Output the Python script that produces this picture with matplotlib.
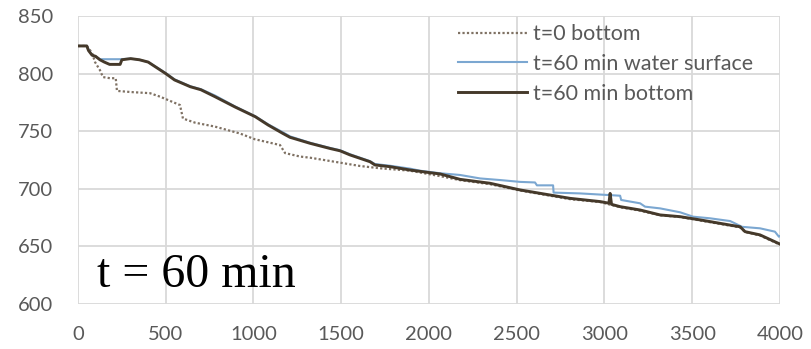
import matplotlib
matplotlib.use("Agg")
import matplotlib.pyplot as plt

# t=0 bottom
x_t0 = [0, 50, 80, 97, 125, 142, 182, 215, 222, 300, 410, 467, 581, 598, 667, 780, 923, 1008,
        1151, 1180, 1265, 1322, 1493, 1607, 1721, 1892, 2063, 2177, 2348, 2519, 2690, 2804,
        2975, 3089, 3203, 3317, 3431, 3545, 3659, 3773, 3801, 3886, 4000]
y_t0 = [824, 824, 818, 810, 803, 797, 796, 796, 785, 784, 783, 780, 772.7, 761, 757.4, 754, 748, 743,
        738, 731, 728, 727, 722.7, 719.8, 717.8, 715.7, 711, 707.5, 704, 698.5, 694, 691,
        688.5, 684, 681, 677, 675.5, 672.5, 669.5, 666.5, 662.5, 659.5, 651.5]

# t=60 min water surface
x_surf = [0, 50, 60, 80, 100, 125, 180, 240, 300, 350, 400, 500, 550, 640, 700, 780, 895, 1010,
          1083, 1168, 1208, 1322, 1436, 1493, 1550, 1664, 1692, 1778, 1892, 1949, 2063, 2177,
          2291, 2405, 2519, 2604, 2615, 2707, 2710, 2860, 2975, 3089, 3095, 3203, 3231, 3317,
          3431, 3505, 3601, 3716, 3784, 3886, 3971, 3994, 4000]
y_surf = [824, 824, 821, 816, 815, 812.5, 812.5, 812.5, 813, 812, 810, 800.5, 795, 789, 786.5, 781, 771.5, 763,
          756, 749, 745.5, 740, 735.5, 733.5, 730, 724, 721.5, 720, 717.5, 715.7, 713.5, 712,
          709, 707.6, 706, 705.5, 703, 703, 696.7, 696, 695, 694, 690.3, 687.4, 684.5, 683,
          679.6, 675.8, 674.4, 672, 667, 665.7, 662.8, 658.4, 659]

# t=60 min bottom
x_bot = [0, 50, 60, 80, 100, 125, 150, 180, 240, 250, 300, 350, 400, 500, 550, 640, 700, 780, 895,
         1010, 1083, 1168, 1208, 1322, 1436, 1493, 1550, 1664, 1692, 1778, 1892, 2005, 2063, 2177,
         2348, 2519, 2690, 2804, 2975, 3025, 3032, 3040, 3089, 3203, 3317, 3431, 3545, 3659,
         3773, 3801, 3886, 4000]
y_bot = [824, 824, 820, 816, 815, 812, 810, 808, 808, 812, 813, 812, 810, 800, 794.5, 788.6, 786, 780, 771,
         762.6, 755.4, 748, 744.7, 739.5, 735, 733, 729.4, 723.5, 720.7, 719.2, 716.3, 714, 712.9, 708.2,
         704.8, 699, 694.6, 691.7, 688.9, 687.5, 696, 686.5, 684.5, 681.6, 677.3, 675.8, 673, 670,
         667, 662.8, 660, 652]

labels = ["t=0 bottom", "t=60 min water surface", "t=60 min bottom"]
x_ticks = [0, 500, 1000, 1500, 2000, 2500, 3000, 3500, 4000]
y_ticks = [600, 650, 700, 750, 800, 850]

fig = plt.figure(figsize=(8.12, 3.49), dpi=100)
ax = fig.add_axes([78/812, 1 - 304/349, 702/812, 288/349])

ax.plot(x_t0, y_t0, color="#7f7163", lw=1.6, ls=(0, (1, 1)), label=labels[0], zorder=3)
ax.plot(x_surf, y_surf, color="#7ba7d1", lw=1.5, label=labels[1], zorder=4)
ax.plot(x_bot, y_bot, color="#45392a", lw=2.1, label=labels[2], zorder=5)

ax.set_xlim(0, 4000)
ax.set_ylim(600, 850)
ax.set_xticks(x_ticks)
ax.set_yticks(y_ticks)
ax.grid(True, color="#d9d9d9", lw=1.3)
ax.set_axisbelow(True)
for s in ax.spines.values():
    s.set_visible(False)
ax.tick_params(length=0, labelsize=14.5, colors="#595959", labelcolor="#595959")
ax.tick_params(axis="y", pad=18)
ax.tick_params(axis="x", pad=16)
for lab in ax.get_xticklabels() + ax.get_yticklabels():
    lab.set_fontfamily("Lato")

leg = ax.legend(loc="upper left", bbox_to_anchor=(0.541, 0.972), frameon=False,
                borderpad=0, borderaxespad=0, handlelength=3.2, handletextpad=0.28,
                labelspacing=0.46, prop={"family": "Lato", "size": 15.5})
for t in leg.get_texts():
    t.set_color("#595959")

ax.text(0.027, 0.059, "t = 60 min", transform=ax.transAxes, fontsize=34.5,
        family="Liberation Serif", color="black", ha="left", va="baseline", zorder=6)

fig.savefig("out.png", dpi=100)
